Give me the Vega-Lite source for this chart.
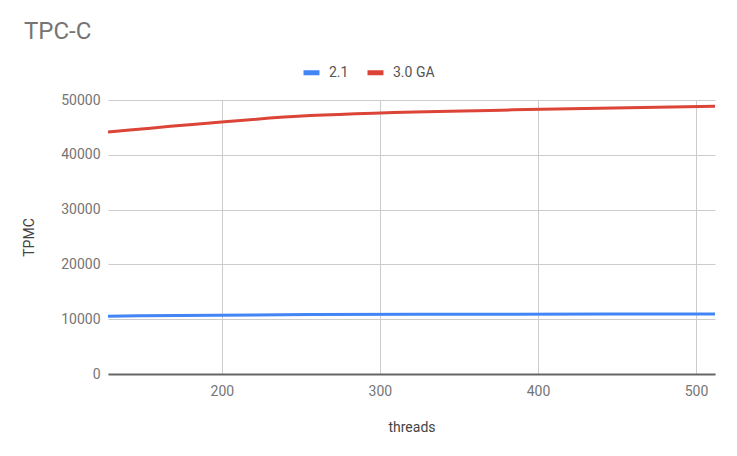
{
  "$schema": "https://vega.github.io/schema/vega-lite/v6.json",
  "autosize": "none",
  "width": 607,
  "height": 274,
  "padding": {"left": 108, "top": 100, "right": 22, "bottom": 82},
  "background": "white",
  "title": {
    "text": "TPC-C",
    "anchor": "start",
    "frame": "group",
    "dx": -84,
    "fontSize": 24,
    "font": "Roboto",
    "fontWeight": "normal",
    "color": "#757575",
    "offset": 18
  },
  "data": {
    "values": [
      {"threads": 128, "version": "2.1", "tpmc": 10550},
      {"threads": 256, "version": "2.1", "tpmc": 10850},
      {"threads": 384, "version": "2.1", "tpmc": 10920},
      {"threads": 512, "version": "2.1", "tpmc": 10960},
      {"threads": 128, "version": "3.0 GA", "tpmc": 44150},
      {"threads": 256, "version": "3.0 GA", "tpmc": 47150},
      {"threads": 384, "version": "3.0 GA", "tpmc": 48200},
      {"threads": 512, "version": "3.0 GA", "tpmc": 48850}
    ]
  },
  "mark": {"type": "line", "interpolate": "monotone", "strokeWidth": 3},
  "encoding": {
    "x": {
      "field": "threads",
      "type": "quantitative",
      "scale": {"domain": [128, 512], "nice": false, "zero": false},
      "axis": {
        "title": "threads",
        "values": [200, 300, 400, 500],
        "ticks": false,
        "domainColor": "#666666",
        "domainWidth": 2,
        "gridColor": "#cccccc",
        "labelPadding": 10,
        "titlePadding": 22
      }
    },
    "y": {
      "field": "tpmc",
      "type": "quantitative",
      "scale": {"domain": [0, 50000], "nice": false},
      "axis": {
        "title": "TPMC",
        "values": [0, 10000, 20000, 30000, 40000, 50000],
        "format": "d",
        "ticks": false,
        "domain": false,
        "gridColor": "#cccccc",
        "labelPadding": 8,
        "titlePadding": 24
      }
    },
    "color": {
      "field": "version",
      "type": "nominal",
      "scale": {"domain": ["2.1", "3.0 GA"], "range": ["#4285f4", "#db4437"]},
      "legend": {
        "title": null,
        "orient": "none",
        "direction": "horizontal",
        "legendX": 193,
        "legendY": -38,
        "symbolType": "stroke",
        "symbolSize": 256,
        "symbolStrokeWidth": 5,
        "labelFontSize": 14,
        "labelFont": "Roboto",
        "labelColor": "#555555",
        "labelOffset": 7,
        "columnPadding": 8
      }
    }
  },
  "config": {
    "view": {"stroke": null},
    "axis": {
      "labelFont": "Roboto",
      "labelFontSize": 14,
      "labelColor": "#757575",
      "titleFont": "Roboto",
      "titleFontSize": 14,
      "titleFontWeight": "normal",
      "titleColor": "#444444",
      "gridWidth": 1
    }
  }
}
